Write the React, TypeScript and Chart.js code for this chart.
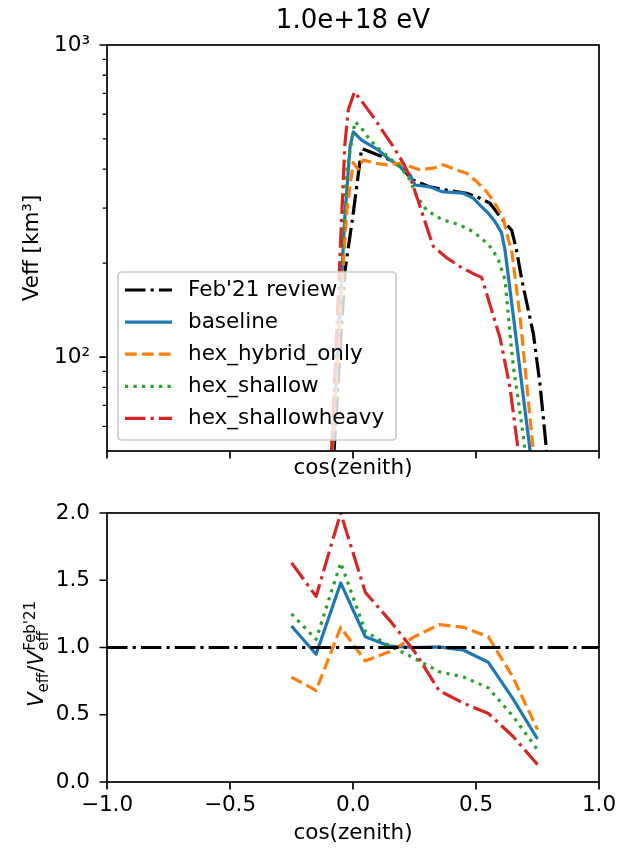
import React, { useEffect, useRef } from 'react';
import { Chart, registerables } from 'chart.js';

Chart.register(...registerables);

const FONT = 'DejaVu Sans';
const BASE = 21.5;
const LW = 3.2;

// ---------- Top panel: effective volume vs cos(zenith) ----------
const feb21Cos = [-0.077, -0.033, 0.001, 0.035, 0.069, 0.137, 0.191, 0.245, 0.313, 0.38, 0.462, 0.516, 0.557, 0.604, 0.645, 0.665, 0.686, 0.733, 0.76, 0.787];
const feb21Veff = [50, 188, 289, 466, 455, 433, 408, 369, 351, 343, 335, 323, 311, 278, 255, 220, 177, 119, 82, 50];

const baselineCos = [-0.083, -0.033, -0.012, 0.001, 0.035, 0.069, 0.103, 0.15, 0.191, 0.232, 0.252, 0.313, 0.36, 0.4, 0.448, 0.489, 0.516, 0.55, 0.577, 0.604, 0.618, 0.652, 0.686, 0.72];
const baselineVeff = [50, 282, 472, 527, 496, 478, 461, 428, 408, 383, 356, 351, 339, 337, 335, 323, 307, 289, 272, 250, 220, 135, 82, 50];

const hybridCos = [-0.085, -0.04, -0.025, 0.001, 0.02, 0.042, 0.089, 0.137, 0.191, 0.232, 0.272, 0.327, 0.367, 0.421, 0.462, 0.503, 0.543, 0.577, 0.611, 0.632, 0.645, 0.679, 0.706, 0.733];
const hybridVeff = [50, 195, 296, 420, 400, 428, 418, 413, 418, 408, 398, 403, 413, 398, 388, 365, 339, 311, 278, 237, 220, 135, 82, 50];

const shallowCos = [-0.088, -0.025, 0.008, 0.035, 0.069, 0.11, 0.15, 0.191, 0.232, 0.259, 0.299, 0.34, 0.367, 0.435, 0.489, 0.53, 0.564, 0.591, 0.618, 0.638, 0.652, 0.692, 0.699];
const shallowVeff = [50, 398, 568, 541, 496, 461, 433, 408, 369, 327, 296, 282, 275, 265, 252, 237, 223, 205, 177, 119, 93, 56, 50];

const heavyCos = [-0.087, -0.046, -0.033, -0.019, 0.006, 0.042, 0.082, 0.123, 0.164, 0.205, 0.232, 0.259, 0.286, 0.313, 0.327, 0.381, 0.435, 0.489, 0.523, 0.543, 0.598, 0.638, 0.672];
const heavyVeff = [50, 282, 480, 620, 708, 650, 589, 527, 472, 418, 378, 327, 282, 243, 226, 208, 195, 185, 180, 160, 115, 80, 50];

// ---------- Bottom panel: ratio to Feb'21 ----------
const ratioCos = [-0.25, -0.15, -0.05, 0.05, 0.15, 0.25, 0.35, 0.45, 0.55, 0.65, 0.75];
const baselineRatio = [1.16, 0.95, 1.48, 1.08, 1.01, 1.0, 1.005, 0.98, 0.89, 0.62, 0.32];
const hybridRatio = [0.78, 0.68, 1.15, 0.9, 0.97, 1.08, 1.17, 1.15, 1.08, 0.78, 0.39];
const shallowRatio = [1.25, 1.06, 1.63, 1.12, 1.01, 0.92, 0.82, 0.78, 0.7, 0.49, 0.24];
const heavyRatio = [1.63, 1.38, 2.0, 1.41, 1.2, 0.97, 0.68, 0.585, 0.51, 0.34, 0.13];
const feb21RatioCos = [-1, 1];
const feb21Ratio = [1, 1];

// ---------- Labels, ticks, styles ----------
const seriesLabels = ["Feb'21 review", 'baseline', 'hex_hybrid_only', 'hex_shallow', 'hex_shallowheavy'];
const seriesColors = ['#000000', '#1f77b4', '#ff7f0e', '#2ca02c', '#d62728'];
const DASHDOT = [20.5, 5.1, 3.2, 5.1];
const seriesDashes = [DASHDOT, [], [11.8, 5.1], [3.2, 5.3], DASHDOT];

const titleText = '1.0e+18 eV';
const xTitle = 'cos(zenith)';
const topYTitle = 'Veff [km³]';
const xTickValues = [-1, -0.5, 0, 0.5, 1];
const xTickLabels = ['−1.0', '−0.5', '0.0', '0.5', '1.0'];
const topYTickValues = [100, 1000];
const topYTickLabels = ['10²', '10³'];
const topYMinorTicks = [60, 70, 80, 90, 200, 300, 400, 500, 600, 700, 800, 900];
const ratioYTickValues = [0, 0.5, 1, 1.5, 2];
const ratioYTickLabels = ['0.0', '0.5', '1.0', '1.5', '2.0'];

const toPts = (xs: number[], ys: number[]) => xs.map((x, i) => ({ x, y: ys[i] }));

const framePlugin = {
  id: 'frame',
  afterDraw(chart: any, _args: any, opts: any) {
    const { ctx, chartArea: a, scales } = chart;
    ctx.save();
    ctx.setLineDash([]);
    ctx.strokeStyle = '#000';
    ctx.lineWidth = 1.7;
    ctx.strokeRect(a.left, a.top, a.right - a.left, a.bottom - a.top);
    ctx.beginPath();
    for (const v of opts.xTicks || []) {
      const px = scales.x.getPixelForValue(v);
      ctx.moveTo(px, a.bottom);
      ctx.lineTo(px, a.bottom + 7.5);
    }
    for (const v of opts.yMajor || []) {
      const py = scales.y.getPixelForValue(v);
      ctx.moveTo(a.left, py);
      ctx.lineTo(a.left - 7.5, py);
    }
    ctx.stroke();
    ctx.beginPath();
    ctx.lineWidth = 1.3;
    for (const v of opts.yMinor || []) {
      const py = scales.y.getPixelForValue(v);
      ctx.moveTo(a.left, py);
      ctx.lineTo(a.left - 4.3, py);
    }
    ctx.stroke();
    ctx.restore();
  },
};

const boxLegendPlugin = {
  id: 'boxLegend',
  afterDatasetsDraw(chart: any, _args: any, opts: any) {
    if (!opts || !opts.items) return;
    const ctx = chart.ctx;
    const { x, y, w, h, r } = opts;
    ctx.save();
    ctx.beginPath();
    ctx.moveTo(x + r, y);
    ctx.lineTo(x + w - r, y);
    ctx.quadraticCurveTo(x + w, y, x + w, y + r);
    ctx.lineTo(x + w, y + h - r);
    ctx.quadraticCurveTo(x + w, y + h, x + w - r, y + h);
    ctx.lineTo(x + r, y + h);
    ctx.quadraticCurveTo(x, y + h, x, y + h - r);
    ctx.lineTo(x, y + r);
    ctx.quadraticCurveTo(x, y, x + r, y);
    ctx.closePath();
    ctx.fillStyle = 'rgba(255,255,255,0.8)';
    ctx.fill();
    ctx.strokeStyle = '#cccccc';
    ctx.lineWidth = 1.7;
    ctx.stroke();
    opts.items.forEach((it: any, i: number) => {
      const cy = y + 18 + i * 32.1;
      ctx.beginPath();
      ctx.setLineDash(it.dash);
      ctx.strokeStyle = it.color;
      ctx.lineWidth = LW;
      ctx.moveTo(x + 7, cy);
      ctx.lineTo(x + 54, cy);
      ctx.stroke();
      ctx.setLineDash([]);
      ctx.fillStyle = '#000';
      ctx.font = `${BASE}px "${FONT}"`;
      ctx.textBaseline = 'middle';
      ctx.textAlign = 'left';
      ctx.fillText(it.label, x + 70, cy);
    });
    ctx.restore();
  },
};

const ratioLabelPlugin = {
  id: 'ratioLabel',
  afterDraw(chart: any, _args: any, opts: any) {
    if (!opts || opts.x == null) return;
    const ctx = chart.ctx;
    const big = BASE;
    const small = BASE * 0.7;
    const fontOf = (size: number, italic: boolean) => `${italic ? 'oblique ' : ''}${size}px "${FONT}"`;
    const measure = (t: string, size: number, italic: boolean) => {
      ctx.font = fontOf(size, italic);
      return ctx.measureText(t).width;
    };
    const subDrop = 4.5;
    const supRaise = 8;
    const wV = measure('V', big, true);
    const wEff = measure('eff', small, false);
    const wSlash = measure('/', big, false);
    const wSup = measure("Feb'21", small, false);
    const total = wV + wEff + wSlash + wV + Math.max(wEff, wSup);
    ctx.save();
    ctx.translate(opts.x, opts.y);
    ctx.rotate(-Math.PI / 2);
    ctx.fillStyle = '#000';
    ctx.textBaseline = 'alphabetic';
    ctx.textAlign = 'left';
    let cx = -total / 2;
    ctx.font = fontOf(big, true);
    ctx.fillText('V', cx, 0);
    cx += wV;
    ctx.font = fontOf(small, false);
    ctx.fillText('eff', cx, subDrop);
    cx += wEff;
    ctx.font = fontOf(big, false);
    ctx.fillText('/', cx, 0);
    cx += wSlash;
    ctx.font = fontOf(big, true);
    ctx.fillText('V', cx, 0);
    cx += wV;
    ctx.font = fontOf(small, false);
    ctx.fillText('eff', cx, subDrop);
    ctx.fillText("Feb'21", cx, -supRaise);
    ctx.restore();
  },
};

function lineDataset(label: string, pts: any[], idx: number, order: number) {
  return {
    label,
    data: pts,
    borderColor: seriesColors[idx],
    backgroundColor: seriesColors[idx],
    borderWidth: LW,
    borderDash: seriesDashes[idx],
    borderCapStyle: 'butt',
    borderJoinStyle: 'round',
    pointRadius: 0,
    tension: 0,
    fill: false,
    order,
  };
}

const setTicks = (vals: number[]) => (s: any) => {
  s.ticks = vals.map((v) => ({ value: v }));
};

const fixSize = (dim: 'width' | 'height', size: number) => (s: any) => {
  s[dim] = size;
  s.paddingLeft = 0;
  s.paddingRight = 0;
  s.paddingTop = 0;
  s.paddingBottom = 0;
};

export default function App() {
  const topRef = useRef<HTMLCanvasElement>(null);
  const botRef = useRef<HTMLCanvasElement>(null);

  useEffect(() => {
    Chart.defaults.font.family = FONT;
    Chart.defaults.color = '#000';

    const topSeries = [
      toPts(feb21Cos, feb21Veff),
      toPts(baselineCos, baselineVeff),
      toPts(hybridCos, hybridVeff),
      toPts(shallowCos, shallowVeff),
      toPts(heavyCos, heavyVeff),
    ];
    const top = new Chart(topRef.current as HTMLCanvasElement, {
      type: 'line',
      data: {
        datasets: topSeries.map((pts, i) => lineDataset(seriesLabels[i], pts, i, 4 - i)) as any,
      },
      plugins: [framePlugin, boxLegendPlugin],
      options: {
        responsive: false,
        animation: false,
        events: [],
        layout: { padding: { left: 0, right: 18, top: 0, bottom: 0 } },
        plugins: {
          legend: { display: false },
          tooltip: { enabled: false },
          title: {
            display: true,
            text: titleText,
            fullSize: false,
            color: '#000',
            font: { size: 26, weight: 'normal' },
            padding: { top: 6, bottom: 7.8 },
          },
          frame: { xTicks: xTickValues, yMajor: topYTickValues, yMinor: topYMinorTicks },
          boxLegend: {
            x: 118,
            y: 272,
            w: 278,
            h: 168,
            r: 4,
            items: seriesLabels.map((label, i) => ({ label, color: seriesColors[i], dash: seriesDashes[i] })),
          },
        } as any,
        scales: {
          x: {
            type: 'linear',
            min: -1,
            max: 1,
            afterBuildTicks: setTicks(xTickValues),
            ticks: { display: false },
            grid: { display: false, drawTicks: false },
            border: { display: false },
            title: { display: true, text: xTitle, color: '#000', font: { size: BASE }, padding: { top: 0, bottom: 9 } },
            afterFit: fixSize('height', 39),
          },
          y: {
            type: 'logarithmic',
            min: 50,
            max: 1000,
            afterBuildTicks: setTicks(topYTickValues),
            ticks: {
              autoSkip: false,
              padding: 17,
              color: '#000',
              font: { size: BASE },
              callback: (_v: any, i: number) => topYTickLabels[i],
            },
            grid: { display: false, drawTicks: false },
            border: { display: false },
            title: { display: true, text: topYTitle, color: '#000', font: { size: BASE }, padding: { top: 20, bottom: 0 } },
            afterFit: fixSize('width', 107),
          },
        } as any,
      },
    });

    const botSeries = [
      toPts(ratioCos, baselineRatio),
      toPts(ratioCos, hybridRatio),
      toPts(ratioCos, shallowRatio),
      toPts(ratioCos, heavyRatio),
    ];
    const botDatasets: any[] = [lineDataset(seriesLabels[0], toPts(feb21RatioCos, feb21Ratio), 0, 0)];
    botSeries.forEach((pts, j) => botDatasets.push(lineDataset(seriesLabels[j + 1], pts, j + 1, 5 - j)));

    const bot = new Chart(botRef.current as HTMLCanvasElement, {
      type: 'line',
      data: { datasets: botDatasets },
      plugins: [framePlugin, ratioLabelPlugin],
      options: {
        responsive: false,
        animation: false,
        events: [],
        layout: { padding: { left: 0, right: 18, top: 23, bottom: 0 } },
        plugins: {
          legend: { display: false },
          tooltip: { enabled: false },
          frame: { xTicks: xTickValues, yMajor: ratioYTickValues, yMinor: [] },
          ratioLabel: { x: 43, y: 164 },
        } as any,
        scales: {
          x: {
            type: 'linear',
            min: -1,
            max: 1,
            afterBuildTicks: setTicks(xTickValues),
            ticks: {
              autoSkip: false,
              maxRotation: 0,
              padding: 11,
              color: '#000',
              font: { size: BASE },
              callback: (_v: any, i: number) => xTickLabels[i],
            },
            grid: { display: false, drawTicks: false },
            border: { display: false },
            title: { display: true, text: xTitle, color: '#000', font: { size: BASE }, padding: { top: 0, bottom: 1.5 } },
            afterFit: fixSize('height', 66),
          },
          y: {
            type: 'linear',
            min: 0,
            max: 2,
            afterBuildTicks: setTicks(ratioYTickValues),
            ticks: {
              autoSkip: false,
              padding: 17,
              color: '#000',
              font: { size: BASE },
              callback: (_v: any, i: number) => ratioYTickLabels[i],
            },
            grid: { display: false, drawTicks: false },
            border: { display: false },
            afterFit: fixSize('width', 107),
          },
        } as any,
      },
    });

    return () => {
      top.destroy();
      bot.destroy();
    };
  }, []);

  return (
    <div style={{ position: 'absolute', left: 0, top: 0, width: 617, height: 848, background: '#fff' }}>
      <canvas ref={topRef} width={617} height={490} style={{ position: 'absolute', left: 0, top: 0, display: 'block' }} />
      <canvas ref={botRef} width={617} height={358} style={{ position: 'absolute', left: 0, top: 490, display: 'block' }} />
    </div>
  );
}
